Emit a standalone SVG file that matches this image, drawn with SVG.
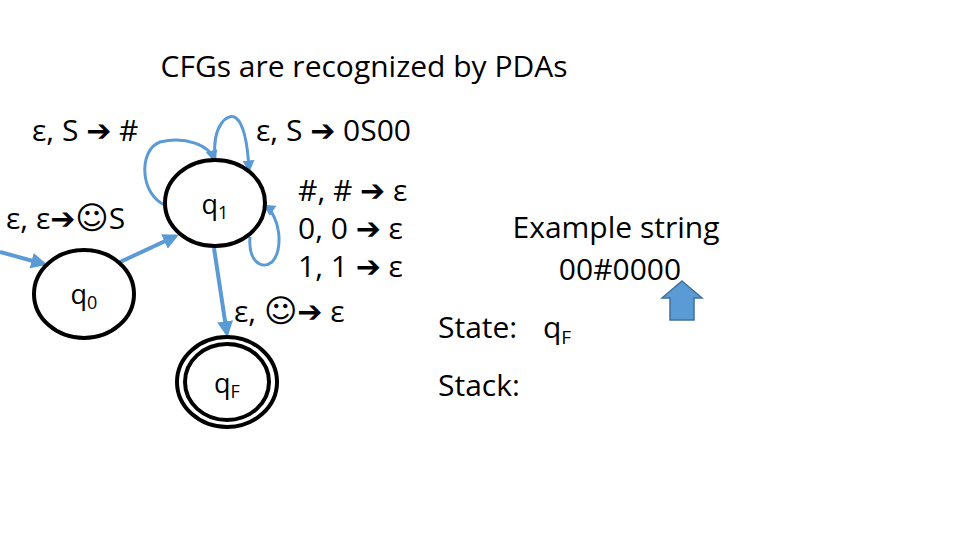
<svg xmlns="http://www.w3.org/2000/svg" width="960" height="540" viewBox="0 0 960 540">
<style>
text{font-family:"Open Sans","Liberation Sans",sans-serif;fill:#000}
.t{font-size:30px}
.ar{font-family:"DejaVu Sans",sans-serif;font-size:30px}
.sm{font-family:"DejaVu Sans",sans-serif;font-size:32px}
.s{fill:#fff;stroke:#000;stroke-width:4}
.c{fill:none;stroke:#5b9bd5;stroke-width:4}
.l{fill:none;stroke:#5b9bd5;stroke-width:3}
</style>
<defs>
<marker id="a" viewBox="0 0 10 10" refX="8" refY="5" markerWidth="4" markerHeight="4" orient="auto"><path d="M0,0L10,5L0,10z" fill="#5b9bd5"/></marker>
</defs>
<rect width="960" height="540" fill="#fff"/>
<text x="364" y="77" text-anchor="middle" class="t" font-size="31">CFGs are recognized by PDAs</text>
<g id="connectors">
<line class="c" x1="0" y1="252" x2="44" y2="264" marker-end="url(#a)"/>
<line class="c" x1="118" y1="263" x2="176" y2="236" marker-end="url(#a)"/>
<line class="c" x1="214" y1="248" x2="227" y2="334" marker-end="url(#a)"/>
<path class="l" d="M165,205 C140,195 138,150 160,142 C185,136 210,145 214,160" marker-end="url(#a)"/>
<path class="l" d="M215,158 C212,125 228,112 236,118 C245,125 248,150 249,170" marker-end="url(#a)"/>
<path class="l" d="M250,237 C248,262 262,270 272,262 C284,250 280,215 265,206" marker-end="url(#a)"/>
</g>
<g id="q0"><ellipse class="s" cx="84" cy="294" rx="50" ry="44"/><text x="84" y="304" text-anchor="middle" font-size="27">q<tspan font-size="18" dy="5">0</tspan></text></g>
<g id="q1"><ellipse class="s" cx="215" cy="203" rx="50" ry="43"/><text x="215" y="214" text-anchor="middle" font-size="27">q<tspan font-size="18" dy="5">1</tspan></text></g>
<g id="qF"><ellipse class="s" cx="227" cy="382" rx="50" ry="45"/><ellipse class="s" cx="227" cy="382" rx="42" ry="38"/><text x="227" y="393" text-anchor="middle" font-size="27">q<tspan font-size="18" dy="5">F</tspan></text></g>
<text x="32" y="141" class="t">ε, S <tspan class="ar">➔</tspan> #</text>
<text x="256" y="141" class="t">ε, S <tspan class="ar">➔</tspan> 0S00</text>
<text x="6" y="229" class="t">ε, ε<tspan class="ar">➔</tspan><tspan class="sm">☺</tspan>S</text>
<text x="298" y="201" class="t">#, # <tspan class="ar">➔</tspan> ε</text>
<text x="298" y="239" class="t">0, 0 <tspan class="ar">➔</tspan> ε</text>
<text x="298" y="277" class="t">1, 1 <tspan class="ar">➔</tspan> ε</text>
<text x="234" y="322" class="t">ε, <tspan class="sm">☺</tspan><tspan class="ar">➔</tspan> ε</text>
<text x="616" y="238" text-anchor="middle" class="t">Example string</text>
<text x="620" y="280" text-anchor="middle" class="t">00#0000</text>
<text x="438" y="338" class="t">State:</text>
<text x="543" y="338" class="t">q<tspan font-size="19" dy="6">F</tspan></text>
<text x="438" y="396" class="t">Stack:</text>
<path d="M682,281 L702,298 L694,298 L694,320 L670,320 L670,298 L662,298 Z" fill="#5b9bd5" stroke="#41719c" stroke-width="1.5"/>
</svg>
